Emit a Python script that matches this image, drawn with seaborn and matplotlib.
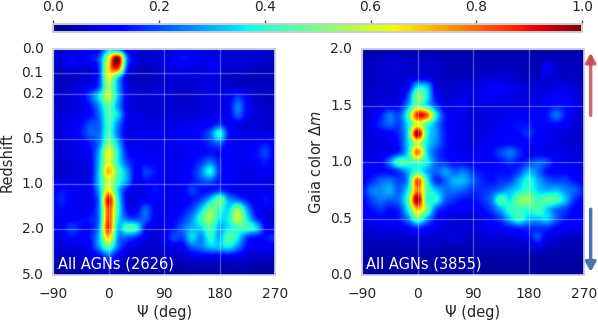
import matplotlib
matplotlib.use("Agg")
import matplotlib.pyplot as plt
import numpy as np
import seaborn as sns

W, H = 598, 322

psi_ticks = ["\u221290", "0", "90", "180", "270"]
z_labels = ["0.0", "0.1", "0.2", "0.5", "1.0", "2.0", "5.0"]
z_rows = [0, 2.55, 4.75, 9.53, 14.3, 19.1, 24]
color_labels = ["2.0", "1.5", "1.0", "0.5", "0.0"]
color_rows = [0, 6, 12, 18, 24]

# density in percent of peak, rows top to bottom, columns -90..270 in 15 deg steps
agn_redshift = [
    [6, 6, 6, 8, 10, 12, 30, 22, 9, 6, 6, 6, 6, 7, 10, 9, 7, 6, 6, 6, 6, 6, 6, 5, 5],
    [6, 9, 12, 10, 14, 21, 60, 100, 26, 9, 7, 8, 9, 11, 14, 12, 10, 10, 10, 8, 8, 8, 8, 7, 6],
    [5, 7, 9, 8, 9, 18, 68, 88, 20, 7, 6, 7, 8, 9, 10, 9, 8, 10, 9, 7, 7, 7, 6, 6, 5],
    [5, 5, 6, 7, 8, 18, 62, 36, 9, 6, 5, 6, 7, 8, 8, 8, 8, 9, 8, 6, 6, 5, 5, 5, 5],
    [6, 6, 7, 9, 11, 20, 54, 30, 10, 7, 6, 7, 8, 8, 7, 7, 8, 9, 8, 7, 7, 6, 6, 6, 6],
    [6, 7, 8, 10, 20, 36, 58, 32, 11, 8, 7, 8, 8, 7, 6, 7, 8, 9, 9, 10, 17, 10, 7, 6, 6],
    [6, 7, 8, 9, 14, 28, 46, 28, 10, 8, 7, 7, 7, 7, 7, 7, 8, 8, 9, 11, 24, 12, 7, 6, 6],
    [7, 8, 9, 10, 13, 24, 44, 34, 12, 9, 8, 8, 8, 8, 8, 8, 9, 9, 10, 11, 22, 11, 8, 7, 6],
    [7, 8, 10, 13, 20, 22, 42, 26, 10, 9, 9, 9, 9, 9, 10, 10, 11, 12, 17, 10, 10, 8, 8, 7, 7],
    [7, 8, 10, 14, 22, 24, 42, 24, 10, 10, 10, 10, 9, 10, 11, 12, 14, 22, 40, 15, 10, 9, 9, 9, 8],
    [7, 8, 9, 11, 15, 24, 50, 32, 11, 10, 10, 10, 10, 10, 11, 11, 13, 17, 22, 11, 10, 10, 11, 14, 10],
    [7, 8, 9, 10, 12, 30, 64, 38, 15, 11, 10, 10, 10, 10, 10, 11, 12, 14, 13, 11, 10, 11, 14, 19, 11],
    [7, 7, 8, 9, 11, 32, 62, 38, 20, 13, 12, 11, 10, 10, 10, 12, 17, 24, 15, 11, 10, 10, 12, 15, 10],
    [6, 7, 8, 8, 10, 34, 72, 46, 28, 11, 18, 15, 10, 10, 11, 14, 24, 38, 17, 11, 10, 9, 10, 11, 9],
    [8, 9, 9, 9, 11, 34, 60, 42, 28, 10, 14, 12, 10, 10, 11, 14, 19, 22, 14, 11, 10, 9, 9, 9, 8],
    [11, 14, 11, 10, 11, 30, 66, 34, 14, 9, 10, 14, 10, 10, 11, 18, 14, 14, 17, 13, 10, 9, 10, 10, 8],
    [13, 16, 11, 10, 11, 26, 92, 40, 11, 9, 11, 11, 10, 10, 11, 14, 19, 32, 48, 28, 22, 14, 10, 14, 10],
    [11, 13, 10, 10, 11, 26, 84, 42, 13, 11, 22, 12, 10, 10, 13, 19, 32, 50, 42, 34, 52, 28, 12, 10, 8],
    [10, 11, 11, 13, 15, 26, 84, 38, 22, 19, 22, 11, 10, 12, 17, 26, 42, 54, 36, 38, 58, 36, 17, 9, 8],
    [9, 12, 18, 14, 13, 28, 88, 32, 44, 40, 14, 9, 10, 14, 22, 30, 34, 44, 30, 36, 42, 42, 34, 12, 10],
    [8, 10, 14, 12, 14, 32, 70, 28, 22, 17, 10, 8, 10, 19, 19, 34, 26, 40, 30, 46, 36, 19, 14, 14, 17],
    [7, 8, 9, 9, 12, 28, 46, 24, 12, 9, 7, 7, 8, 10, 11, 22, 24, 32, 32, 36, 26, 13, 10, 11, 11],
    [6, 6, 6, 7, 8, 12, 22, 11, 7, 6, 6, 6, 6, 7, 7, 9, 11, 12, 11, 12, 10, 8, 7, 7, 7],
    [4, 4, 4, 4, 5, 6, 8, 6, 5, 4, 4, 4, 4, 4, 4, 5, 5, 5, 5, 5, 5, 5, 4, 4, 4],
    [3, 3, 3, 3, 3, 4, 4, 4, 3, 3, 3, 3, 3, 3, 3, 3, 3, 3, 3, 3, 3, 3, 3, 3, 3],
]

agn_color = [
    [3, 3, 3, 3, 4, 4, 4, 4, 4, 3, 3, 3, 3, 3, 3, 3, 3, 3, 3, 3, 3, 3, 3, 3, 3],
    [5, 5, 6, 7, 7, 6, 6, 6, 6, 5, 5, 5, 5, 5, 5, 5, 5, 5, 5, 5, 6, 6, 5, 5, 5],
    [5, 6, 7, 8, 8, 7, 7, 7, 7, 6, 5, 5, 5, 5, 5, 6, 6, 5, 5, 5, 11, 7, 6, 5, 5],
    [5, 6, 7, 7, 7, 8, 9, 9, 7, 6, 6, 6, 6, 7, 8, 8, 7, 6, 6, 6, 8, 7, 6, 6, 5],
    [6, 6, 7, 7, 8, 12, 34, 32, 9, 7, 7, 8, 8, 9, 11, 12, 10, 9, 8, 8, 8, 9, 9, 8, 6],
    [6, 7, 8, 8, 9, 20, 52, 38, 12, 8, 8, 9, 9, 10, 11, 10, 9, 8, 8, 9, 10, 12, 11, 9, 7],
    [6, 7, 8, 10, 12, 28, 50, 36, 20, 10, 10, 11, 9, 9, 9, 9, 9, 9, 9, 10, 12, 14, 13, 10, 7],
    [7, 9, 14, 24, 20, 44, 88, 82, 38, 15, 10, 10, 8, 8, 9, 9, 10, 11, 11, 12, 14, 24, 14, 9, 7],
    [7, 10, 17, 22, 19, 36, 62, 44, 28, 14, 10, 9, 8, 8, 9, 10, 12, 14, 14, 13, 13, 13, 11, 8, 7],
    [7, 9, 11, 12, 17, 38, 100, 42, 28, 15, 10, 9, 8, 9, 10, 11, 11, 13, 17, 12, 10, 9, 8, 7, 7],
    [7, 8, 9, 10, 15, 34, 58, 36, 26, 15, 10, 9, 9, 10, 11, 12, 13, 12, 11, 11, 10, 9, 8, 7, 7],
    [8, 9, 10, 11, 17, 36, 80, 36, 20, 14, 11, 10, 10, 11, 13, 19, 24, 17, 11, 10, 10, 10, 9, 8, 7],
    [10, 10, 11, 24, 44, 42, 44, 38, 22, 16, 13, 12, 11, 11, 12, 14, 17, 14, 17, 22, 19, 11, 10, 9, 8],
    [11, 12, 13, 14, 19, 30, 42, 30, 22, 28, 22, 24, 17, 14, 13, 14, 14, 19, 30, 24, 14, 12, 12, 10, 9],
    [11, 16, 22, 24, 19, 30, 84, 42, 17, 22, 30, 30, 22, 16, 14, 17, 19, 30, 40, 30, 22, 19, 19, 14, 11],
    [13, 24, 26, 30, 22, 38, 78, 46, 32, 24, 24, 22, 17, 17, 19, 24, 30, 36, 42, 34, 30, 32, 26, 22, 16],
    [12, 19, 24, 22, 24, 46, 100, 42, 40, 22, 17, 14, 14, 17, 24, 44, 36, 50, 52, 42, 46, 44, 32, 17, 12],
    [10, 14, 17, 14, 17, 38, 72, 50, 22, 14, 12, 11, 11, 13, 19, 30, 40, 42, 40, 44, 34, 24, 19, 12, 10],
    [9, 11, 12, 12, 14, 26, 48, 30, 14, 10, 8, 8, 8, 10, 13, 19, 32, 42, 32, 32, 34, 22, 14, 11, 11],
    [7, 8, 9, 9, 10, 12, 17, 13, 10, 8, 7, 8, 8, 9, 11, 11, 14, 17, 17, 17, 17, 13, 11, 10, 9],
    [6, 6, 7, 7, 7, 7, 8, 8, 7, 7, 9, 7, 6, 7, 8, 8, 8, 9, 12, 20, 10, 8, 7, 6, 6],
    [5, 5, 5, 5, 5, 5, 6, 6, 6, 5, 5, 5, 5, 6, 6, 6, 6, 6, 7, 9, 6, 6, 5, 5, 5],
    [4, 4, 4, 4, 4, 4, 4, 4, 4, 4, 4, 4, 4, 4, 4, 4, 4, 4, 4, 4, 4, 4, 4, 4, 4],
    [3, 3, 3, 3, 3, 3, 3, 3, 3, 3, 3, 3, 3, 3, 3, 3, 3, 3, 3, 3, 3, 3, 3, 3, 3],
    [3, 3, 3, 3, 3, 3, 3, 3, 3, 3, 3, 3, 3, 3, 3, 3, 3, 3, 3, 3, 3, 3, 3, 3, 3],
]

sns.set_theme(style="whitegrid")
plt.rcParams["font.family"] = "DejaVu Sans"
plt.rcParams["font.size"] = 10


def add_axes(fig, x0, x1, y0, y1):
    return fig.add_axes([x0 / W, 1 - y1 / H, (x1 - x0) / W, (y1 - y0) / H])


def draw_panel(ax, values, y_rows, y_labels, ylabel, note, cax=None):
    grid = np.array(values) / 100
    sns.heatmap(grid, ax=ax, cmap="jet", vmin=0, vmax=1, linewidths=0,
                cbar=cax is not None, cbar_ax=cax,
                cbar_kws={"orientation": "horizontal"} if cax is not None else None)
    # same cells again, smoothed, the original is a blurred density map
    ax.imshow(grid, cmap="jet", vmin=0, vmax=1, interpolation="catrom", aspect="auto",
              extent=(-0.5, 24.5, 24.5, -0.5), zorder=2)
    ax.set_xlim(0, 24)
    ax.set_ylim(24, 0)
    ax.set_xticks([0, 6, 12, 18, 24], psi_ticks, rotation=0, fontsize=10, color=".15")
    ax.set_yticks(y_rows, y_labels, rotation=0, fontsize=10, color=".15")
    ax.tick_params(axis="x", length=0, pad=8.5)
    ax.tick_params(axis="y", length=0, pad=7)
    ax.set_axisbelow(False)
    ax.grid(True, color="white", alpha=0.3, lw=1)
    for sp in ax.spines.values():
        sp.set_visible(True)
        sp.set_color("#c9cbdc")
        sp.set_linewidth(1.2)
    ax.set_xlabel("\u03a8 (deg)", fontsize=10.5, color=".15", labelpad=3)
    ax.set_ylabel(ylabel, fontsize=10.5, color=".15", labelpad=4.8)
    ax.text(0.02, 0.05, note, transform=ax.transAxes, color="white", fontsize=10.5, va="center", zorder=3)


fig = plt.figure(figsize=(W / 100, H / 100), dpi=100)
ax1 = add_axes(fig, 53.3, 275.3, 49.3, 275.3)
ax2 = add_axes(fig, 362, 584, 49.3, 275.3)
cax = add_axes(fig, 53.3, 582, 24, 32)

draw_panel(ax1, agn_redshift, z_rows, z_labels, "Redshift", "All AGNs (2626)", cax=cax)
draw_panel(ax2, agn_color, color_rows, color_labels, r"Gaia color $\Delta m$", "All AGNs (3855)")

cax.xaxis.set_ticks_position("top")
cax.set_xticks(np.arange(0, 1.01, 0.2), [f"{v:.1f}" for v in np.arange(0, 1.01, 0.2)])
cax.tick_params(axis="x", length=3, width=1, color=".3", labelsize=10, labelcolor=".15", pad=4)
for sp in cax.spines.values():
    sp.set_visible(True)
    sp.set_edgecolor("#c9cbdc")
    sp.set_linewidth(1.2)

# colour direction arrows beside the right panel
head = "-|>,head_length=0.55,head_width=0.3"
ax2.annotate("", xy=(1.03, 0.985), xytext=(1.03, 0.708), xycoords="axes fraction",
             annotation_clip=False,
             arrowprops=dict(arrowstyle=head, mutation_scale=10, color="#c44e52", alpha=0.85,
                             lw=2.5, shrinkA=0, shrinkB=0))
ax2.annotate("", xy=(1.03, 0.015), xytext=(1.03, 0.292), xycoords="axes fraction",
             annotation_clip=False,
             arrowprops=dict(arrowstyle=head, mutation_scale=10, color="#4c72b0",
                             lw=2.5, shrinkA=0, shrinkB=0))

fig.savefig("out.png", dpi=100)
